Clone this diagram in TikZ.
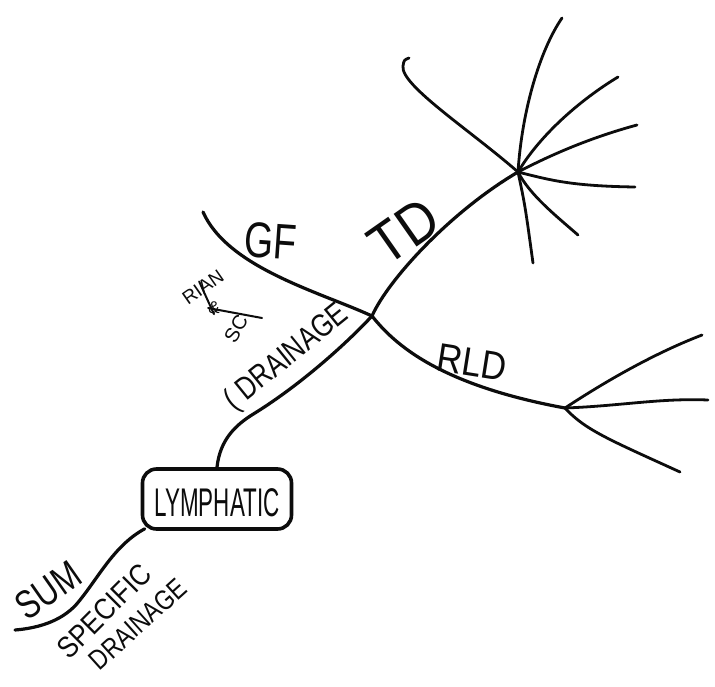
\documentclass[tikz,border=0pt]{standalone}
\usepackage{fontspec}
\setmainfont{Liberation Sans}
\usetikzlibrary{calc}
\definecolor{ink}{RGB}{12,12,12}
\tikzset{
  branch/.style={draw=ink,line width=3.2pt,line cap=round,line join=round},
  twig/.style={branch,line width=2.8pt},
  word/.style={inner sep=0pt,text=ink,font=\fontsize{#1}{#1}\selectfont},
  topic/.style={draw=ink,line width=3.6pt,rounded corners=14pt,minimum width=149pt,minimum height=60pt,inner sep=0pt}
}
\newcommand{\hand}[2][0.8]{\scalebox{#1}[1]{#2}}

\begin{document}
\begin{tikzpicture}[x=1pt,y=-1pt]
  \useasboundingbox[fill=white] (0,0) rectangle (715,686);

  % hubs
  \coordinate (junc) at (372,316);
  \coordinate (tdhub) at (518,172);
  \coordinate (rldhub) at (565,408);

  \node[topic] (lymph) at (217,499) {};
  \node[word=40] (lymphtxt) at (217,503) {\hand[0.56]{LYMPHATIC}};

  % main branches
  \draw[branch] (lymph.north) .. controls (220,440) and (235,425) .. (255,413)
    .. controls (300,385) and (345,345) .. (junc);
  \draw[branch] (203,212) .. controls (228,268) and (320,292) .. (junc);
  \draw[branch] (junc) .. controls (388,280) and (450,212) .. (tdhub);
  \draw[branch] (junc) .. controls (395,345) and (440,385) .. (rldhub);
  \draw[branch] ($(lymph.south west)+(4,-2)$) .. controls (115,545) and (100,575) .. (80,600)
    .. controls (65,620) and (40,628) .. (15,630);

  % TD spokes
  \draw[twig] (tdhub) .. controls (470,130) and (400,85) .. (403,66) .. controls (404,60) .. (409,58);
  \draw[twig] (tdhub) .. controls (522,110) and (540,50) .. (562,18);
  \draw[twig] (tdhub) .. controls (540,135) and (580,100) .. (618,77);
  \draw[twig] (tdhub) .. controls (560,150) and (600,135) .. (637,125);
  \draw[twig] (tdhub) .. controls (550,180) and (570,186) .. (635,187);
  \draw[twig] (tdhub) .. controls (530,195) and (555,215) .. (578,235);
  \draw[twig] (tdhub) .. controls (525,205) .. (533,263);

  % RLD spokes
  \draw[twig] (rldhub) .. controls (600,385) and (650,355) .. (702,335);
  \draw[twig] (rldhub) .. controls (620,406) and (660,398) .. (708,400);
  \draw[twig] (rldhub) .. controls (585,430) and (610,440) .. (680,472);

  % labels
  \node[word=50,rotate=-4] (gf) at (271,241) {\hand[0.75]{GF}};
  \node[word=58,rotate=35] (td) at (404,231) {\hand[0.9]{TD}};
  \node[word=40,rotate=-9] (rld) at (472,362) {\hand[0.87]{RLD}};
  \node[word=32,rotate=39] (drain) at (287,358) {\hand[0.8]{( DRAINAGE}};
  \node[word=40,rotate=35] (sum) at (48,590) {\hand[0.78]{SUM}};
  \node[word=30,rotate=45] (specific) at (104,611) {\hand[0.86]{SPECIFIC}};
  \node[word=28,rotate=42] (drain2) at (138,624) {\hand[0.82]{DRAINAGE}};

  % crossed note
  \node[word=19,rotate=35] (rian) at (203,287) {RIAN};
  \node[word=17] (amp) at (214,308) {\&};
  \node[word=20,rotate=60] (sc) at (236,329) {SC};
  \draw[twig,line width=2pt] (rian.north) -- (amp.south);
  \draw[twig,line width=2pt] (amp.west) -- (262,318);
\end{tikzpicture}
\end{document}
